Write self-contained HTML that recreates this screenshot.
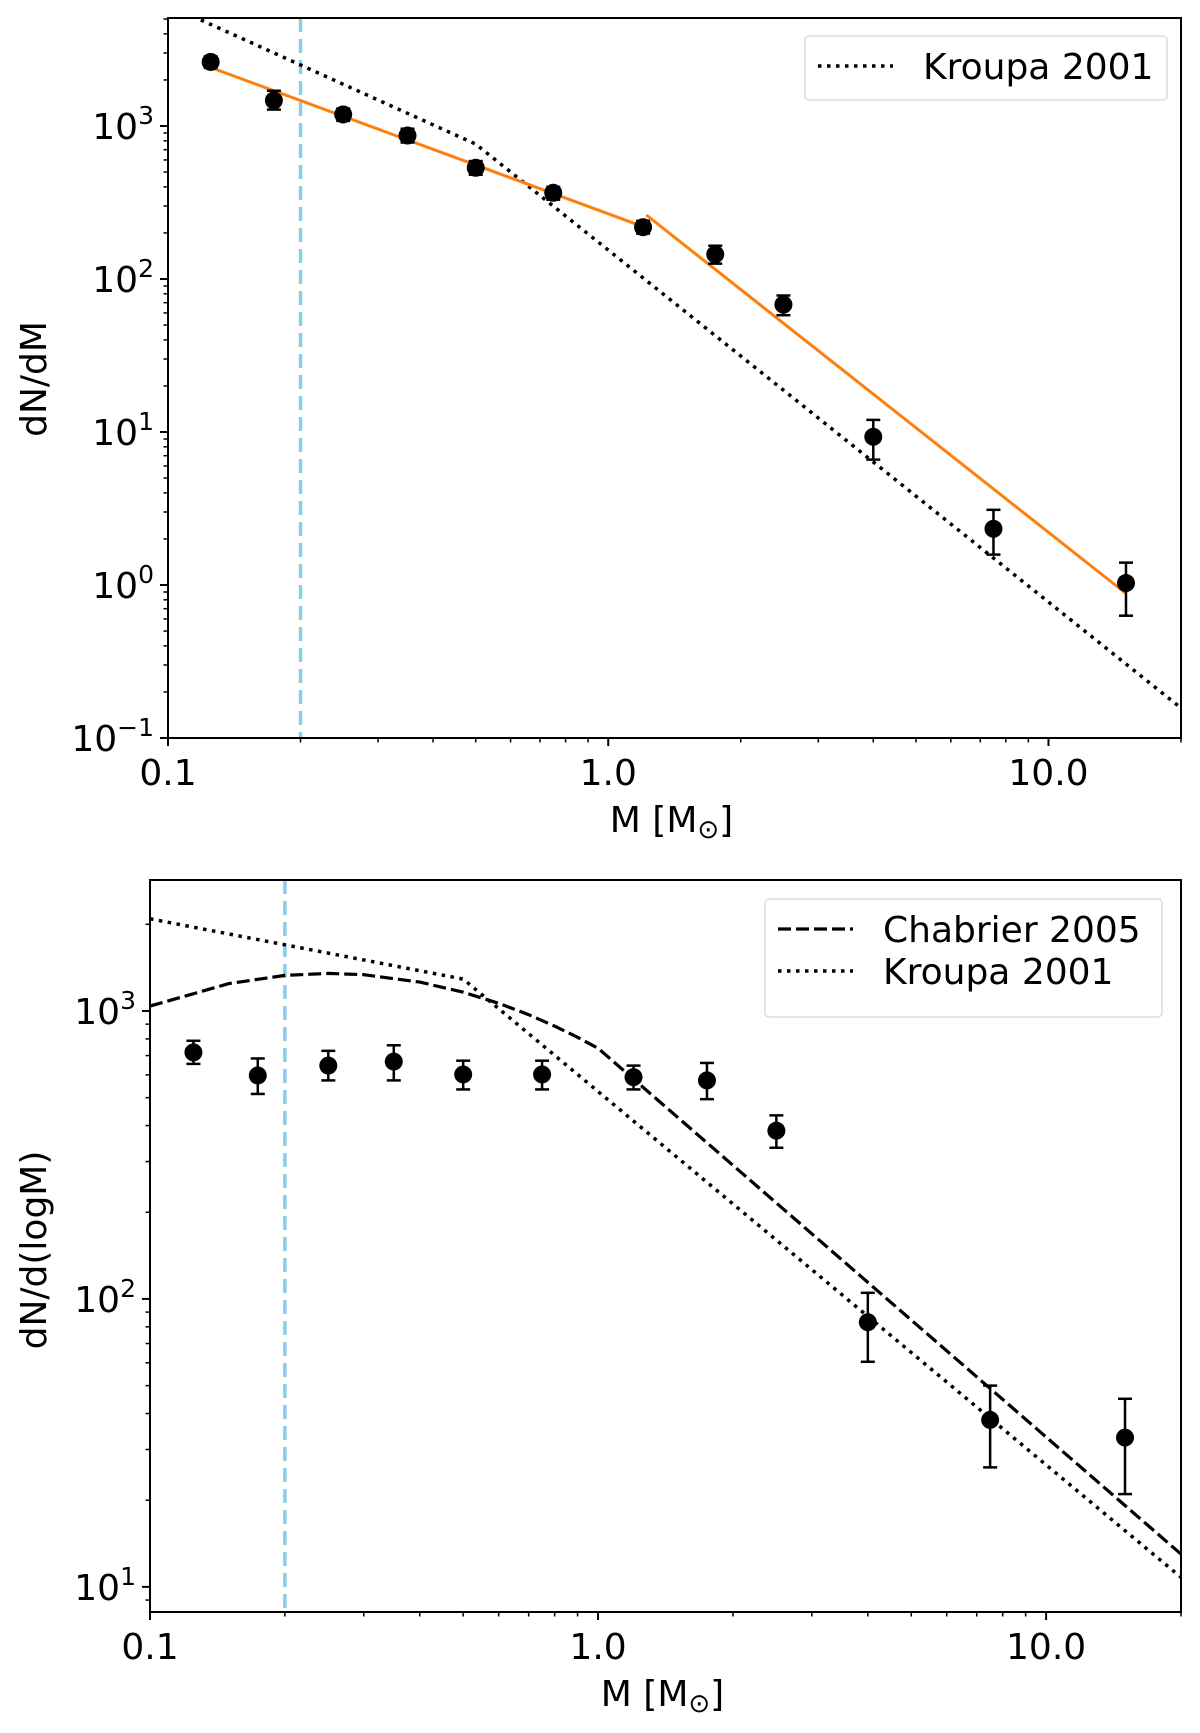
<!DOCTYPE html>
<html><head><meta charset="utf-8"><style>
html,body{margin:0;padding:0;background:#fff;}
svg{display:block;font-family:"DejaVu Sans","Liberation Sans",sans-serif;}
</style></head><body>
<svg id="fig" width="1200" height="1733" viewBox="0 0 1200 1733" xmlns="http://www.w3.org/2000/svg"></svg>
<script>
// ---- Top panel data (dN/dM) ----
const topMass = [0.125, 0.174, 0.25, 0.35, 0.5, 0.75, 1.2, 1.75, 2.5, 4, 7.5, 15];
const topVal  = [2620, 1470, 1190, 866, 533, 366, 218, 145, 68, 9.3, 2.33, 1.03];
const topHi   = [2850, 1700, 1300, 960, 590, 400, 240, 165, 78, 12, 3.1, 1.4];
const topLo   = [2400, 1280, 1080, 780, 480, 330, 198, 126, 58, 6.6, 1.58, 0.63];
const fitSeg1M = [0.125, 1.2];
const fitSeg1V = [2410, 220];
const fitSeg2M = [1.22, 15];
const fitSeg2V = [262, 0.88];
const kroupaTopM = [0.1, 0.5, 20];
const kroupaTopV = [6170, 762, 0.157];
// ---- Bottom panel data (dN/dlogM) ----
const botMass = [0.125, 0.174, 0.25, 0.35, 0.5, 0.75, 1.2, 1.75, 2.5, 4, 7.5, 15];
const botVal  = [718, 597, 646, 667, 602, 602, 589, 574, 384, 83, 38, 33];
const botHi   = [788, 684, 727, 760, 672, 672, 646, 660, 434, 105, 50, 45];
const botLo   = [655, 515, 574, 574, 534, 534, 534, 494, 335, 60.5, 26, 21];
const kroupaBotM = [0.1, 0.5, 20];
const kroupaBotV = [2090, 1290, 10.8];
const chabM = [0.1, 0.15, 0.2, 0.25, 0.3, 0.4, 0.5, 0.6, 0.7, 0.8, 0.9, 1.0, 20];
const chabV = [1040, 1245, 1329, 1350, 1336, 1260, 1162, 1063, 971, 886, 810, 742, 13.0];
const xTickVals = [0.1, 1, 10];
const xTickLabels = ["0.1", "1.0", "10.0"];
const cutMass = 0.2;

const NS = "http://www.w3.org/2000/svg";
const svg = document.getElementById('fig');
function mk(tag, attrs, parent) {
  const e = document.createElementNS(NS, tag);
  for (const k in attrs) e.setAttribute(k, attrs[k]);
  (parent || svg).appendChild(e);
  return e;
}
const L10 = Math.log10;
const FS = 36;

function panel(cfg) {
  const g = mk('g', {});
  
  
  const X = m => cfg.x0 + (L10(m) - L10(0.1)) / (L10(20) - L10(0.1)) * (cfg.x1 - cfg.x0);
  const Y = v => cfg.y1 - (L10(v) - L10(cfg.ymin)) / (L10(cfg.ymax) - L10(cfg.ymin)) * (cfg.y1 - cfg.y0);
  const clip = 'clip-' + cfg.name;
  const cp = mk('clipPath', {id: clip}, g);
  mk('rect', {x: cfg.x0, y: cfg.y0, width: cfg.x1 - cfg.x0, height: cfg.y1 - cfg.y0}, cp);
  const plot = mk('g', {'clip-path': 'url(#' + clip + ')'}, g);

  const cut = mk('line', {x1: X(cutMass), x2: X(cutMass), y1: cfg.y0, y2: cfg.y1, stroke: '#87ceeb', 'stroke-width': 3.5, 'stroke-dasharray': '14,7'}, plot);
  
  

  function line(ms, vs, attrs, name) {
    const pts = ms.map((m, i) => X(m).toFixed(1) + ',' + Y(vs[i]).toFixed(1)).join(' ');
    const p = mk('polyline', Object.assign({points: pts, fill: 'none'}, attrs), plot);
    
    
  }
  cfg.lines.forEach(l => line(l.m, l.v, l.attrs, l.name));

  cfg.mass.forEach((m, i) => {
    const pg = mk('g', {}, plot);
    
    
    const x = X(m);
    mk('line', {x1: x, x2: x, y1: Y(cfg.hi[i]), y2: Y(cfg.lo[i]), stroke: '#000', 'stroke-width': 2.5}, pg);
    mk('line', {x1: x - 7, x2: x + 7, y1: Y(cfg.hi[i]), y2: Y(cfg.hi[i]), stroke: '#000', 'stroke-width': 2.5}, pg);
    mk('line', {x1: x - 7, x2: x + 7, y1: Y(cfg.lo[i]), y2: Y(cfg.lo[i]), stroke: '#000', 'stroke-width': 2.5}, pg);
    mk('circle', {cx: x, cy: Y(cfg.val[i]), r: 9, fill: '#000'}, pg);
  });

  const ax = mk('g', {}, g);
  
  
  for (let d = -1; d <= 1; d++) for (let k = 1; k <= 9; k++) {
    const m = k * Math.pow(10, d);
    if (m > 20.001) continue;
    const x = X(m), len = k === 1 ? 8 : 4.5;
    mk('line', {x1: x, x2: x, y1: cfg.y1, y2: cfg.y1 + len, stroke: '#000', 'stroke-width': k === 1 ? 2 : 1.5}, ax);
  }
  xTickVals.forEach((v, i) => {
    const t = mk('text', {x: X(v), y: cfg.y1 + 47, 'font-size': FS, 'text-anchor': 'middle'}, ax);
    t.textContent = xTickLabels[i];
    
    
  });
  for (let d = Math.floor(L10(cfg.ymin)); d <= Math.ceil(L10(cfg.ymax)); d++) for (let k = 1; k <= 9; k++) {
    const v = k * Math.pow(10, d);
    if (v < cfg.ymin * 0.999 || v > cfg.ymax) continue;
    const y = Y(v), len = k === 1 ? 8 : 4.5;
    mk('line', {x1: cfg.x0 - len, x2: cfg.x0, y1: y, y2: y, stroke: '#000', 'stroke-width': k === 1 ? 2 : 1.5}, ax);
    if (k === 1) {
      const t = mk('text', {x: cfg.x0 - 14, y: y + 13, 'font-size': FS, 'text-anchor': 'end'}, ax);
      
      
      const a = mk('tspan', {}, t); a.textContent = '10';
      const b = mk('tspan', {'font-size': 25, dy: -15}, t); b.textContent = d < 0 ? '\u2212' + (-d) : String(d);
    }
  }
  mk('rect', {x: cfg.x0, y: cfg.y0, width: cfg.x1 - cfg.x0, height: cfg.y1 - cfg.y0, fill: 'none', stroke: '#000', 'stroke-width': 2}, ax);

  const xl = mk('text', {x: (cfg.x0 + cfg.x1) / 2 - 3, y: cfg.y1 + 94, 'font-size': FS, 'text-anchor': 'middle'}, g);
  
  
  const x1 = mk('tspan', {}, xl); x1.textContent = 'M [M';
  const x2 = mk('tspan', {'font-size': 26, dy: 6}, xl); x2.textContent = '\u2299';
  const x3 = mk('tspan', {dy: -6}, xl); x3.textContent = ']';
  const yl = mk('text', {x: 0, y: 0, 'font-size': FS, 'text-anchor': 'middle', transform: 'translate(46,' + cfg.ylabelY + ') rotate(-90)'}, g);
  yl.textContent = cfg.ylabel;
  
  

  const lg = mk('g', {}, g);
  
  
  const lb = cfg.legend;
  mk('rect', {x: lb.x, y: lb.y, width: lb.w, height: lb.h, rx: 4, fill: '#fff', 'fill-opacity': 0.8, stroke: '#ddd', 'stroke-width': 1.5}, lg);
  lb.items.forEach((it, i) => {
    const eg = mk('g', {}, lg);
    
    
    const yy = lb.y + 30 + i * 42;
    mk('line', Object.assign({x1: lb.x + 13, x2: lb.x + 88, y1: yy, y2: yy}, it.attrs), eg);
    const t = mk('text', {x: lb.x + 118, y: yy + 13, 'font-size': FS}, eg);
    t.textContent = it.label;
  });
}

const dotted = {stroke: '#000', 'stroke-width': 3.5, 'stroke-dasharray': '3.5,5.5', 'stroke-linecap': 'butt'};
const dashed = {stroke: '#000', 'stroke-width': 3.2, 'stroke-dasharray': '13,5'};

panel({
  name: 'top-panel', x0: 168, x1: 1181, y0: 18, y1: 738, ymin: 0.1, ymax: 5080,
  mass: topMass, val: topVal, hi: topHi, lo: topLo,
  ylabel: 'dN/dM', ylabelY: 379,
  lines: [
    {m: kroupaTopM, v: kroupaTopV, attrs: dotted, name: 'kroupa-2001-line'},
    {m: fitSeg1M, v: fitSeg1V, attrs: {stroke: '#ff7f0e', 'stroke-width': 3}, name: 'fit-low-mass'},
    {m: fitSeg2M, v: fitSeg2V, attrs: {stroke: '#ff7f0e', 'stroke-width': 3}, name: 'fit-high-mass'}
  ],
  legend: {x: 805, y: 36, w: 362, h: 64, items: [{label: 'Kroupa 2001', attrs: dotted}]}
});
panel({
  name: 'bottom-panel', x0: 150, x1: 1181, y0: 880, y1: 1612, ymin: 8.18, ymax: 2850,
  mass: botMass, val: botVal, hi: botHi, lo: botLo,
  ylabel: 'dN/d(logM)', ylabelY: 1250,
  lines: [
    {m: kroupaBotM, v: kroupaBotV, attrs: dotted, name: 'kroupa-2001-line'},
    {m: chabM, v: chabV, attrs: dashed, name: 'chabrier-2005-line'}
  ],
  legend: {x: 765, y: 899, w: 397, h: 118, items: [{label: 'Chabrier 2005', attrs: dashed}, {label: 'Kroupa 2001', attrs: dotted}]}
});
</script>
</body></html>
